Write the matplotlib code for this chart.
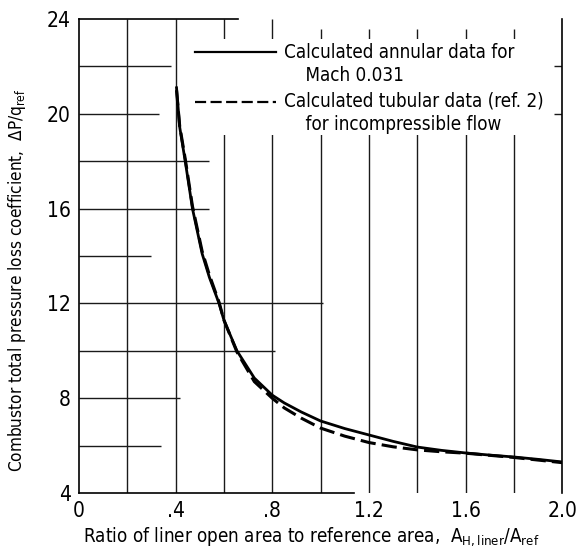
import matplotlib
matplotlib.use("Agg")
import matplotlib.pyplot as plt
from matplotlib.patches import Rectangle

plt.rcParams['font.family'] = ['DejaVu Sans']
plt.rcParams['font.stretch'] = 'condensed'
plt.rcParams['mathtext.default'] = 'regular'

# values
x_annular = [0.404, 0.417, 0.44, 0.455, 0.47, 0.51, 0.54, 0.58, 0.60, 0.654, 0.726,
             0.80, 0.85, 0.92, 1.0, 1.1, 1.2, 1.3, 1.4, 1.5, 1.6, 1.7, 1.8, 1.9, 2.0]
y_annular = [21.1, 19.45, 18.0, 17.0, 16.0, 14.1, 13.1, 12.0, 11.3, 10.0, 8.85,
             8.13, 7.8, 7.42, 7.04, 6.72, 6.45, 6.18, 5.94, 5.8, 5.69, 5.6, 5.52, 5.42, 5.31]

x_tubular = [0.404, 0.417, 0.44, 0.455, 0.47, 0.51, 0.54, 0.58, 0.60, 0.654, 0.726,
             0.80, 0.85, 0.92, 1.0, 1.1, 1.2, 1.3, 1.4, 1.5, 1.6, 1.7, 1.8, 1.9, 2.0]
y_tubular = [21.0, 19.5, 18.1, 17.1, 16.1, 14.2, 13.2, 12.05, 11.3, 9.95, 8.7,
             8.0, 7.59, 7.16, 6.74, 6.40, 6.13, 5.95, 5.82, 5.74, 5.68, 5.59, 5.50, 5.39, 5.28]

x_ticks = [0, 0.4, 0.8, 1.2, 1.6, 2.0]
x_tick_labels = ['0', '.4', '.8', '1.2', '1.6', '2.0']
y_ticks = [4, 8, 12, 16, 20, 24]

label_annular = 'Calculated annular data for\n    Mach 0.031'
label_tubular = 'Calculated tubular data (ref. 2)\n    for incompressible flow'

fig = plt.figure(figsize=(5.76, 5.53), dpi=100)
ax = fig.add_axes([0.137, 0.1085, 0.839, 0.857])
ax.set_xlim(0, 2.0)
ax.set_ylim(4, 24)

# partial grid, like the scanned original
grid_kw = dict(color='#1a1a1a', lw=1.0, zorder=1)
for gx in [0.2, 0.4, 0.6, 0.8]:
    ax.vlines(gx, 4, 24, **grid_kw)
for gx in [1.0, 1.2, 1.4, 1.6, 1.8]:
    ax.vlines(gx, 4, 23.6, **grid_kw)
h_extent = {6: 0.34, 8: 0.42, 10: 0.81, 12: 1.01, 14: 0.30,
            16: 0.54, 18: 0.54, 20: 0.33, 22: 0.38}
for gy, xe in h_extent.items():
    ax.hlines(gy, 0, xe, **grid_kw)
ax.hlines([20, 22], 1.965, 2.0, **grid_kw)

# blank area behind the key
ax.add_patch(Rectangle((0.47, 19.1), 1.47, 4.05, facecolor='white',
                       edgecolor='none', zorder=2))

ax.plot(x_annular, y_annular, color='black', lw=2.0, zorder=3)
ax.plot(x_tubular, y_tubular, color='black', lw=2.2, dashes=(5, 2), zorder=3)

# key
ax.plot([0.48, 0.815], [22.6, 22.6], color='black', lw=1.6, zorder=4)
ax.plot([0.48, 0.815], [20.5, 20.5], color='black', lw=1.6, dashes=(5, 2), zorder=4)
ax.text(0.85, 22.6 + 0.4, label_annular, fontsize=13.5, va='top', ha='left',
        zorder=4, linespacing=1.3)
ax.text(0.85, 20.5 + 0.45, label_tubular, fontsize=13.5, va='top', ha='left',
        zorder=4, linespacing=1.3)

for side in ['top', 'right', 'bottom', 'left']:
    ax.spines[side].set_linewidth(1.2)
ax.spines['top'].set_bounds(0, 0.66)
ax.spines['bottom'].set_bounds(0, 1.14)

ax.set_xticks(x_ticks)
ax.set_xticklabels(x_tick_labels)
ax.set_yticks(y_ticks)
ax.tick_params(axis='x', length=0, labelsize=15, pad=6)
ax.tick_params(axis='y', length=0, labelsize=15, pad=6)

ax.set_xlabel('Ratio of liner open area to reference area,  $A_{H,liner}/A_{ref}$',
              fontsize=13.5)
ax.xaxis.set_label_coords(0.48, -0.068)
ax.set_ylabel('Combustor total pressure loss coefficient,  $\\Delta P/q_{ref}$',
              fontsize=12.3)
ax.yaxis.set_label_coords(-0.105, 0.45)

fig.savefig('out.png', dpi=100)
